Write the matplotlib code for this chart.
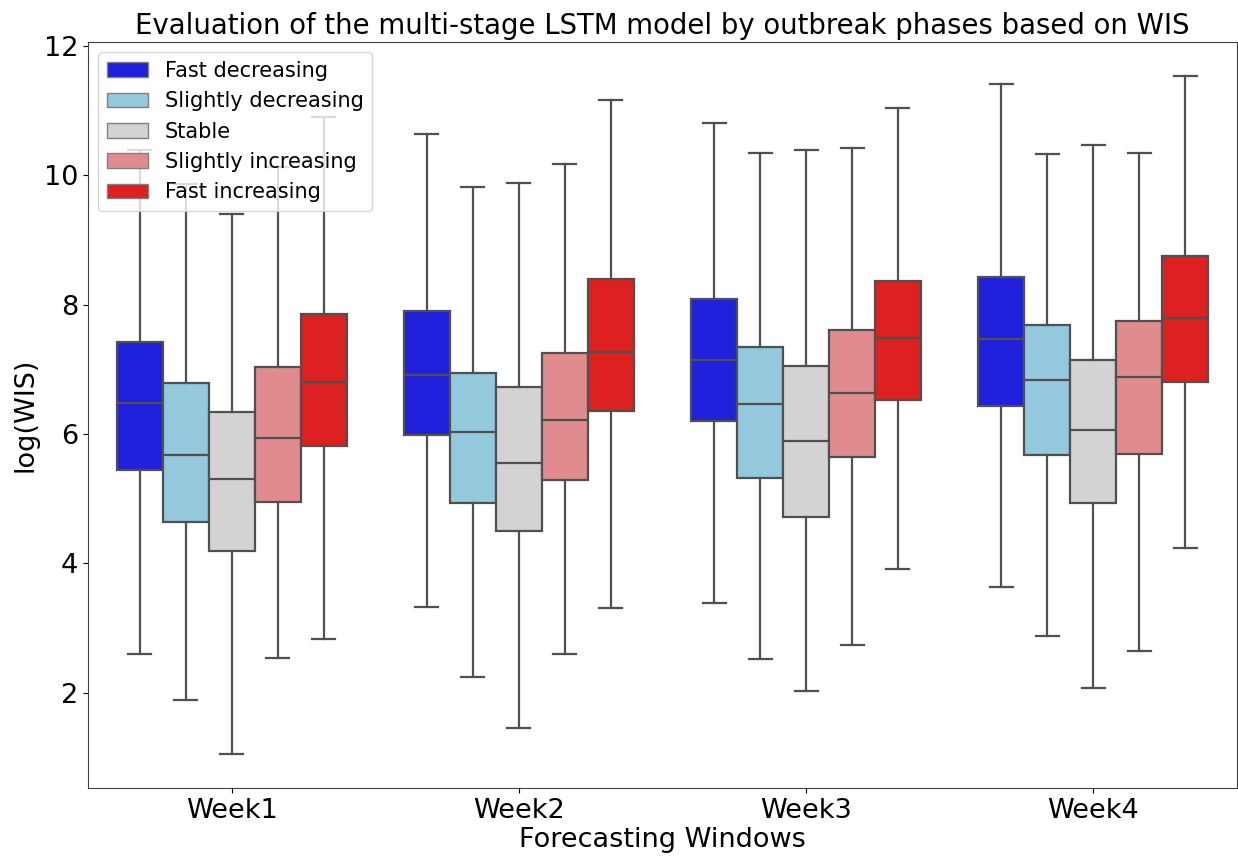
import numpy as np
import matplotlib
matplotlib.use('Agg')
import matplotlib.pyplot as plt
from matplotlib.patches import Patch

# summary statistics of log(WIS) per forecasting window and outbreak phase
weeks = ['Week1', 'Week2', 'Week3', 'Week4']
phases = ['Fast decreasing', 'Slightly decreasing', 'Stable',
          'Slightly increasing', 'Fast increasing']
colors = ['#2020dd', '#93c8dd', '#d3d3d3', '#e08c8e', '#dd2020']

# rows = weeks, columns = phases
whislo = [[2.60, 1.88, 1.05, 2.54, 2.83],
          [3.32, 2.24, 1.45, 2.60, 3.31],
          [3.39, 2.52, 2.02, 2.74, 3.91],
          [3.63, 2.87, 2.08, 2.65, 4.24]]
q1 = [[5.45, 4.64, 4.19, 4.95, 5.82],
      [5.98, 4.94, 4.50, 5.29, 6.35],
      [6.20, 5.32, 4.72, 5.65, 6.52],
      [6.44, 5.68, 4.94, 5.69, 6.81]]
med = [[6.48, 5.67, 5.30, 5.94, 6.80],
       [6.92, 6.03, 5.55, 6.22, 7.27],
       [7.15, 6.46, 5.89, 6.64, 7.49],
       [7.47, 6.84, 6.07, 6.89, 7.79]]
q3 = [[7.43, 6.79, 6.34, 7.04, 7.85],
      [7.91, 6.95, 6.73, 7.26, 8.40],
      [8.09, 7.35, 7.05, 7.61, 8.36],
      [8.43, 7.68, 7.15, 7.75, 8.75]]
whishi = [[10.39, 9.87, 9.41, 10.13, 10.90],
          [10.64, 9.82, 9.88, 10.17, 11.17],
          [10.81, 10.35, 10.39, 10.42, 11.04],
          [11.41, 10.33, 10.47, 10.34, 11.54]]

line_col = '#505050'
lw = 1.6
plt.rcParams['font.family'] = 'DejaVu Sans'

fig = plt.figure(figsize=(12.38, 8.57), dpi=100)
ax = fig.add_axes([0.0711, 0.0805, 0.928, 0.8705])

n = len(phases)
width = 0.8 / n
offsets = (np.arange(n) - (n - 1) / 2) * width

for j in range(n):
    stats = []
    for i in range(len(weeks)):
        stats.append({'whislo': whislo[i][j], 'q1': q1[i][j], 'med': med[i][j],
                      'q3': q3[i][j], 'whishi': whishi[i][j], 'fliers': []})
    pos = np.arange(len(weeks)) + offsets[j]
    ax.bxp(stats, positions=pos, widths=width, showfliers=False,
           patch_artist=True, manage_ticks=False,
           boxprops=dict(facecolor=colors[j], edgecolor=line_col, linewidth=lw),
           medianprops=dict(color=line_col, linewidth=lw),
           whiskerprops=dict(color=line_col, linewidth=lw),
           capprops=dict(color=line_col, linewidth=lw),
           capwidths=width / 2)

lo = np.min(whislo)
hi = np.max(whishi)
pad = (hi - lo) * 0.05
ax.set_ylim(lo - pad, hi + pad)
ax.set_xlim(-0.5, len(weeks) - 0.5)
ax.set_xticks(np.arange(len(weeks)))
ax.set_xticklabels(weeks)
ax.set_yticks([2, 4, 6, 8, 10, 12])
ax.tick_params(labelsize=19.5)
for s in ax.spines.values():
    s.set_color('#404040')

ax.set_xlabel('Forecasting Windows', fontsize=19.5, labelpad=2)
ax.set_ylabel('log(WIS)', fontsize=19.5)
ax.set_title('Evaluation of the multi-stage LSTM model by outbreak phases based on WIS',
             fontsize=19.8, pad=6)

handles = [Patch(facecolor=c, edgecolor='#808080', label=p)
           for c, p in zip(colors, phases)]
ax.legend(handles=handles, loc='upper left', fontsize=15)

fig.savefig('out.png', dpi=100)
